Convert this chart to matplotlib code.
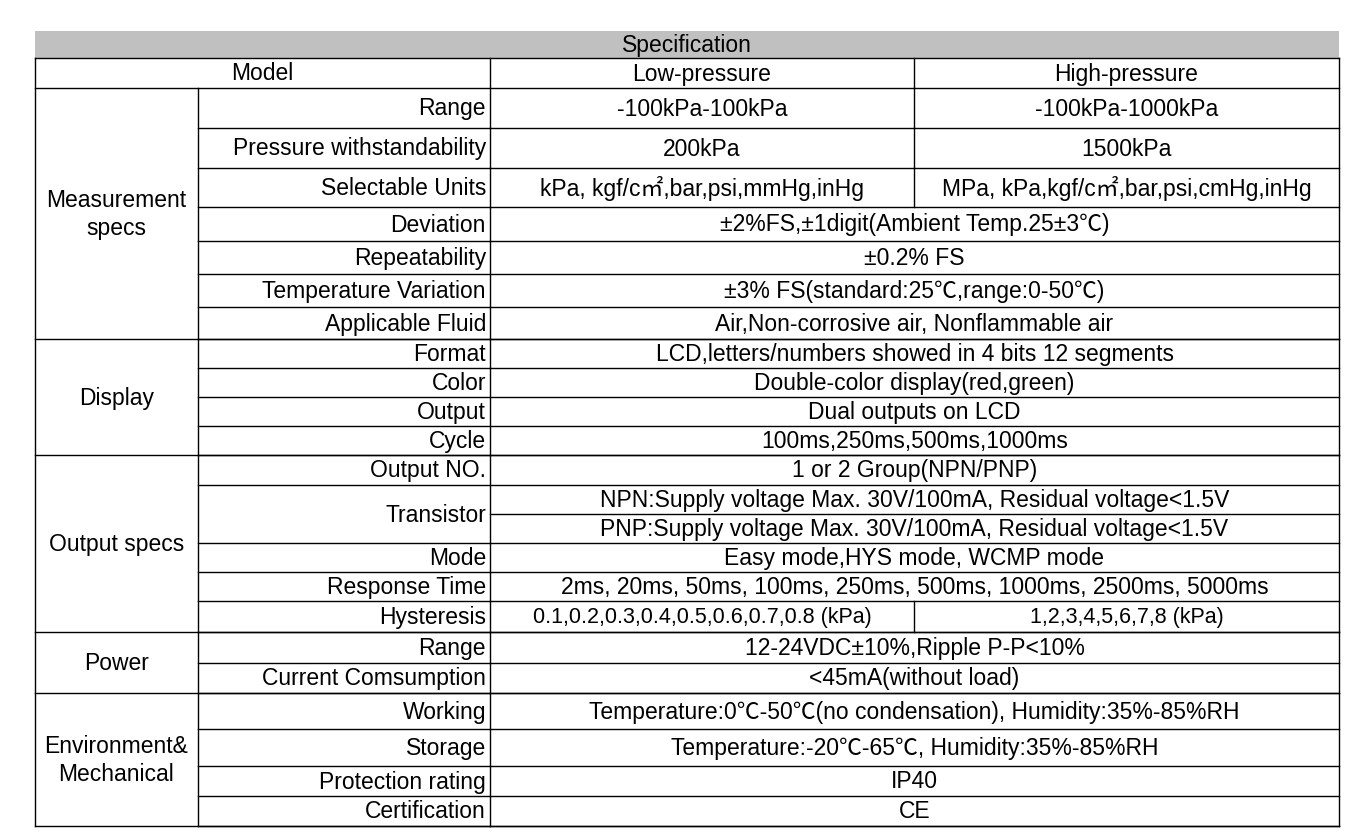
import matplotlib
matplotlib.use("Agg")
from matplotlib import pyplot as plt
from matplotlib.patches import Rectangle

plt.rcParams['font.family'] = ['Liberation Sans', 'Noto Sans CJK SC', 'DejaVu Sans']
fontsize = 16.5

title = "Specification"
header = ["Model", "Low-pressure", "High-pressure"]

# row boundaries (pixel rows of the picture)
row_edges = [88, 128, 168, 207, 241, 274, 307, 339, 368, 397, 426, 455, 485,
             514, 543, 572, 601, 632, 663, 693, 729, 766, 796, 826]

groups = [("Measurement\nspecs", 0, 7), ("Display", 7, 4), ("Output specs", 11, 6),
          ("Power", 17, 2), ("Environment&\nMechanical", 19, 4)]

# (label, first row, number of rows)
labels = [("Range", 0, 1), ("Pressure withstandability", 1, 1), ("Selectable Units", 2, 1),
          ("Deviation", 3, 1), ("Repeatability", 4, 1), ("Temperature Variation", 5, 1),
          ("Applicable Fluid", 6, 1), ("Format", 7, 1), ("Color", 8, 1), ("Output", 9, 1),
          ("Cycle", 10, 1), ("Output NO.", 11, 1), ("Transistor", 12, 2), ("Mode", 14, 1),
          ("Response Time", 15, 1), ("Hysteresis", 16, 1), ("Range", 17, 1),
          ("Current Comsumption", 18, 1), ("Working", 19, 1), ("Storage", 20, 1),
          ("Protection rating", 21, 1), ("Certification", 22, 1)]

# (low, high); high None -> merged cell
values = [
    ("-100kPa-100kPa", "-100kPa-1000kPa"),
    ("200kPa", "1500kPa"),
    ("kPa, kgf/c㎡,bar,psi,mmHg,inHg", "MPa, kPa,kgf/c㎡,bar,psi,cmHg,inHg"),
    ("±2%FS,±1digit(Ambient Temp.25±3℃)", None),
    ("±0.2% FS", None),
    ("±3% FS(standard:25℃,range:0-50℃)", None),
    ("Air,Non-corrosive air, Nonflammable air", None),
    ("LCD,letters/numbers showed in 4 bits 12 segments", None),
    ("Double-color display(red,green)", None),
    ("Dual outputs on LCD", None),
    ("100ms,250ms,500ms,1000ms", None),
    ("1 or 2 Group(NPN/PNP)", None),
    ("NPN:Supply voltage Max. 30V/100mA, Residual voltage<1.5V", None),
    ("PNP:Supply voltage Max. 30V/100mA, Residual voltage<1.5V", None),
    ("Easy mode,HYS mode, WCMP mode", None),
    ("2ms, 20ms, 50ms, 100ms, 250ms, 500ms, 1000ms, 2500ms, 5000ms", None),
    ("0.1,0.2,0.3,0.4,0.5,0.6,0.7,0.8 (kPa)", "1,2,3,4,5,6,7,8 (kPa)"),
    ("12-24VDC±10%,Ripple P-P<10%", None),
    ("<45mA(without load)", None),
    ("Temperature:0℃-50℃(no condensation), Humidity:35%-85%RH", None),
    ("Temperature:-20℃-65℃, Humidity:35%-85%RH", None),
    ("IP40", None),
    ("CE", None),
]

x0, x1, x2, x3, x4 = 35, 198, 490, 914, 1339
y_title, y_head = 31, 58

fig = plt.figure(figsize=(13.57, 8.4), dpi=100)
ax = fig.add_axes([0, 0, 1, 1])
ax.set_xlim(0, 1357)
ax.set_ylim(840, 0)
ax.axis('off')

lw = 1.0
def hline(y, xa, xb):
    ax.plot([xa, xb], [y, y], color='black', lw=lw)
def vline(x, ya, yb):
    ax.plot([x, x], [ya, yb], color='black', lw=lw)

ax.add_patch(Rectangle((x0, y_title), x4 - x0, y_head - y_title, facecolor='#c0c0c0', edgecolor='none'))
ax.text((x0 + x4) / 2, (y_title + y_head) / 2 + 1, title, ha='center', va='center', fontsize=fontsize)

# header
hline(y_head, x0, x4)
hline(row_edges[0], x0, x4)
vline(x0, y_head, row_edges[-1])
vline(x4, y_head, row_edges[-1])
vline(x2, y_head, row_edges[-1])
vline(x3, y_head, row_edges[0])
ym = (y_head + row_edges[0]) / 2 + 1
ax.text((x0 + x2) / 2, ym, header[0], ha='center', va='center', fontsize=fontsize)
ax.text((x2 + x3) / 2, ym, header[1], ha='center', va='center', fontsize=fontsize)
ax.text((x3 + x4) / 2, ym, header[2], ha='center', va='center', fontsize=fontsize)

# groups
for name, start, n in groups:
    ya, yb = row_edges[start], row_edges[start + n]
    hline(yb, x0, x4)
    vline(x1, ya, yb)
    ax.text((x0 + x1) / 2, (ya + yb) / 2 + 1, name, ha='center', va='center',
            fontsize=fontsize, linespacing=1.25)

# labels
for name, start, n in labels:
    ya, yb = row_edges[start], row_edges[start + n]
    hline(yb, x1, x2)
    ax.text(x2 - 4, (ya + yb) / 2 + 1, name, ha='right', va='center', fontsize=fontsize)

# values
for i, (low, high) in enumerate(values):
    ya, yb = row_edges[i], row_edges[i + 1]
    yc = (ya + yb) / 2 + 1
    hline(yb, x2, x4)
    if high is None:
        ax.text((x2 + x4) / 2, yc, low, ha='center', va='center', fontsize=fontsize)
    else:
        vline(x3, ya, yb)
        fs = fontsize - 1 if i == 16 else fontsize
        ax.text((x2 + x3) / 2, yc, low, ha='center', va='center', fontsize=fs)
        ax.text((x3 + x4) / 2, yc, high, ha='center', va='center', fontsize=fs)

fig.savefig("out.png", dpi=100, facecolor='white')
